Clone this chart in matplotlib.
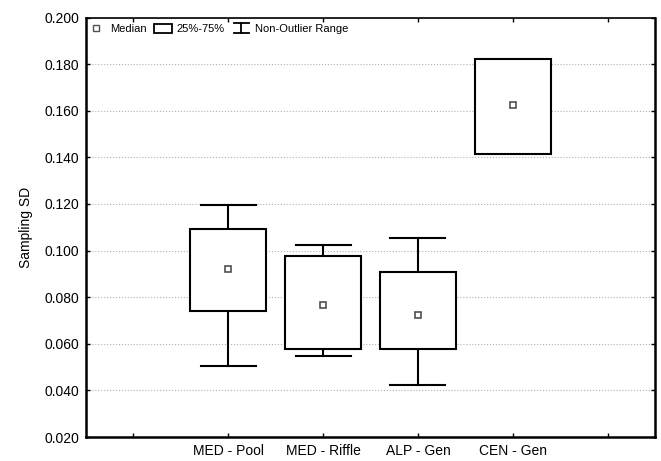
import matplotlib.pyplot as plt
from matplotlib.patches import Rectangle
from matplotlib.lines import Line2D
from matplotlib.legend_handler import HandlerBase

plt.rcParams['font.family'] = ['Liberation Sans', 'DejaVu Sans']

groups = ["MED - Pool", "MED - Riffle", "ALP - Gen", "CEN - Gen"]
medians = [0.0923, 0.0767, 0.0724, 0.1623]
q25 = [0.0740, 0.0578, 0.0578, 0.1415]
q75 = [0.1092, 0.0976, 0.0910, 0.1822]
wmin = [0.0506, 0.0548, 0.0424, 0.1415]
wmax = [0.1194, 0.1026, 0.1056, 0.1822]
yticks = [0.020, 0.040, 0.060, 0.080, 0.100, 0.120, 0.140, 0.160, 0.180, 0.200]


class WhiskerHandler(HandlerBase):
    def create_artists(self, legend, orig_handle, xd, yd, width, height, fontsize, trans):
        cx = xd + width / 2
        w = width * 0.8
        y0 = yd - height * 0.15
        y1 = yd + height * 1.0
        arts = [
            Line2D([cx, cx], [y0, y1], color='black', lw=1.3),
            Line2D([cx - w / 2, cx + w / 2], [y1, y1], color='black', lw=1.3),
            Line2D([cx - w / 2, cx + w / 2], [y0, y0], color='black', lw=1.3),
        ]
        for a in arts:
            a.set_transform(trans)
        return arts


class WhiskerKey:
    pass


fig = plt.figure(figsize=(6.61, 4.61), dpi=100)
ax = fig.add_axes([0.130, 0.052, 0.861, 0.910])

bw = 0.8
cw = 0.58
for i, g in enumerate(groups):
    x = i + 1
    if wmax[i] > q75[i]:
        ax.plot([x, x], [q75[i], wmax[i]], color='black', lw=1.5, zorder=3)
        ax.plot([x - cw / 2, x + cw / 2], [wmax[i], wmax[i]], color='black', lw=1.5, zorder=3)
    if wmin[i] < q25[i]:
        ax.plot([x, x], [wmin[i], q25[i]], color='black', lw=1.5, zorder=3)
        ax.plot([x - cw / 2, x + cw / 2], [wmin[i], wmin[i]], color='black', lw=1.5, zorder=3)
    ax.add_patch(Rectangle((x - bw / 2, q25[i]), bw, q75[i] - q25[i],
                           facecolor='white', edgecolor='black', lw=1.5, zorder=3))
    ax.plot([x], [medians[i]], marker='s', ms=5, mfc='white', mec='#505050', mew=1.2,
            ls='none', zorder=4)

ax.set_xlim(-0.5, 5.5)
ax.set_ylim(0.020, 0.200)
ax.set_xticks(range(0, 6))
ax.set_xticklabels([""] + groups + [""], fontsize=10)
ax.set_yticks(yticks)
ax.set_yticklabels(["%.3f" % v for v in yticks], fontsize=10)
ax.set_ylabel("Sampling SD", fontsize=10, labelpad=8)
ax.tick_params(direction='in', length=3, width=1, top=True, right=True, pad=5)
ax.yaxis.grid(True, linestyle=':', color='#b0b0b0', lw=0.8)
ax.set_axisbelow(True)
for side in ['left', 'bottom', 'right']:
    ax.spines[side].set_linewidth(1.8)
ax.spines['top'].set_linewidth(1.2)

h_med = Line2D([], [], marker='s', ms=4, mfc='white', mec='#505050', mew=1, ls='none')
h_box = Rectangle((0, 0), 1, 1, facecolor='white', edgecolor='black', lw=1.3)
h_wh = WhiskerKey()
leg = ax.legend([h_med, h_box, h_wh], ["Median", "25%-75%", "Non-Outlier Range"],
                handler_map={WhiskerKey: WhiskerHandler()},
                loc='upper left', ncol=3, frameon=False, fontsize=8,
                handlelength=1.7, handleheight=0.8, handletextpad=0.4, columnspacing=0.6,
                borderaxespad=0.2, bbox_to_anchor=(-0.01, 1.0))

fig.savefig("out.png", dpi=100)
